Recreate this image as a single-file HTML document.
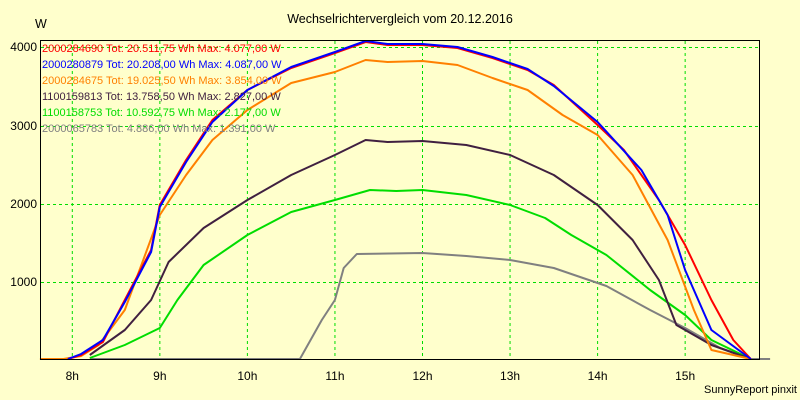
<!DOCTYPE html>
<html><head><meta charset="utf-8"><style>
html,body{margin:0;padding:0;background:#ffffcc;}
svg{display:block;font-family:"Liberation Sans",sans-serif;}
</style></head><body>
<svg id="s" width="800" height="400" xmlns="http://www.w3.org/2000/svg">
<rect width="800" height="400" fill="#ffffcc"/>
<text x="400" y="23" font-size="12.5" text-anchor="middle" fill="#000">Wechselrichtervergleich vom 20.12.2016</text>
<text x="35" y="28" font-size="12.5" fill="#000">W</text>
<g id="grid" stroke="#00dd00" stroke-dasharray="3,3" stroke-width="1"></g>
<g id="lines" fill="none" stroke-width="2" stroke-linejoin="round"></g>
<rect x="40.5" y="40.5" width="719" height="319" fill="none" stroke="#000"/>
<g font-size="12" fill="#000" text-anchor="end">
<text x="37" y="51">4000</text><text x="37" y="130">3000</text><text x="37" y="208">2000</text><text x="37" y="286">1000</text>
</g>
<g font-size="12" fill="#000" text-anchor="middle" id="xl"></g>
<g font-size="11">
<text x="42" y="52" fill="#ff0000">2000284690 Tot: 20.511,75 Wh Max: 4.077,00 W</text>
<text x="42" y="68" fill="#0000ff">2000280879 Tot: 20.208,00 Wh Max: 4.087,00 W</text>
<text x="42" y="84" fill="#ff8000">2000284675 Tot: 19.025,50 Wh Max: 3.854,00 W</text>
<text x="42" y="100" fill="#402040">1100159813 Tot: 13.758,50 Wh Max: 2.827,00 W</text>
<text x="42" y="116" fill="#00dd00">1100158753 Tot: 10.592,75 Wh Max: 2.177,00 W</text>
<text x="42" y="132" fill="#808080">2000065783 Tot: 4.886,00 Wh Max: 1.391,00 W</text>
</g>
<text x="797" y="393" font-size="11" text-anchor="end" fill="#000">SunnyReport pinxit</text>
</svg>
<script>
var ns="http://www.w3.org/2000/svg";
function X(t){return 72.3+(t-8)*87.55;}
var g=document.getElementById('grid'),xl=document.getElementById('xl');
for(var h=8;h<=15;h++){var l=document.createElementNS(ns,'line');l.setAttribute('x1',X(h));l.setAttribute('x2',X(h));l.setAttribute('y1',41);l.setAttribute('y2',359);g.appendChild(l);
var t=document.createElementNS(ns,'text');t.setAttribute('x',X(h));t.setAttribute('y',380);t.textContent=h+'h';xl.appendChild(t);}
[47,126,204,282].forEach(function(y){var l=document.createElementNS(ns,'line');l.setAttribute('x1',41);l.setAttribute('x2',759);l.setAttribute('y1',y+.5);l.setAttribute('y2',y+.5);g.appendChild(l);});
var S=[
['#808080',[[8.2,359],[10.6,359],[10.85,320],[11.0,300],[11.1,268],[11.25,254],[12.0,253],[12.5,256],[13.0,260],[13.5,268],[14.1,286],[14.6,310],[15.0,328],[15.4,348],[15.75,359],[15.97,359]]],
['#00dd00',[[8.2,358],[8.6,345],[9.0,328],[9.2,300],[9.5,265],[10.0,235],[10.5,212],[11.0,200],[11.4,190],[11.7,191],[12.0,190],[12.5,195],[13.0,205],[13.4,218],[13.7,235],[14.1,255],[14.6,290],[15.0,315],[15.3,340],[15.75,359]]],
['#402040',[[8.2,355],[8.6,330],[8.9,300],[9.1,262],[9.5,228],[10.0,200],[10.5,175],[11.0,155],[11.35,140],[11.6,142],[12.0,141],[12.5,145],[13.0,155],[13.5,175],[14.0,205],[14.4,240],[14.7,280],[14.9,325],[15.3,345],[15.75,359]]],
['#ff8000',[[7.63,359],[7.9,359],[8.1,356],[8.3,345],[8.6,310],[9.0,215],[9.3,175],[9.6,140],[10.0,110],[10.5,83],[11.0,72],[11.35,60],[11.6,62],[12.0,61],[12.4,65],[12.8,78],[13.2,90],[13.6,115],[14.0,135],[14.4,175],[14.8,240],[15.1,310],[15.3,350],[15.75,359]]],
['#ff0000',[[7.95,359],[8.1,355],[8.35,342],[8.6,300],[8.9,250],[9.0,205],[9.3,160],[9.6,120],[10.0,90],[10.5,68],[11.0,53],[11.35,42],[11.6,45],[12.0,45],[12.4,48],[12.8,58],[13.2,70],[13.5,85],[14.0,125],[14.3,150],[14.7,200],[15.0,245],[15.3,300],[15.55,340],[15.75,359]]],
['#0000ff',[[7.95,359],[8.1,354],[8.35,340],[8.6,302],[8.9,252],[9.0,207],[9.3,162],[9.6,122],[10.0,90],[10.5,67],[11.0,52],[11.35,41],[11.6,44],[12.0,44],[12.4,47],[12.8,57],[13.2,69],[13.5,86],[14.0,122],[14.5,170],[14.8,215],[15.0,270],[15.3,330],[15.75,359]]]];
var L=document.getElementById('lines');
S.forEach(function(s){var p=document.createElementNS(ns,'polyline');p.setAttribute('stroke',s[0]);p.setAttribute('points',s[1].map(function(q){return X(q[0]).toFixed(1)+','+q[1];}).join(' '));L.appendChild(p);});
</script>
</body></html>
